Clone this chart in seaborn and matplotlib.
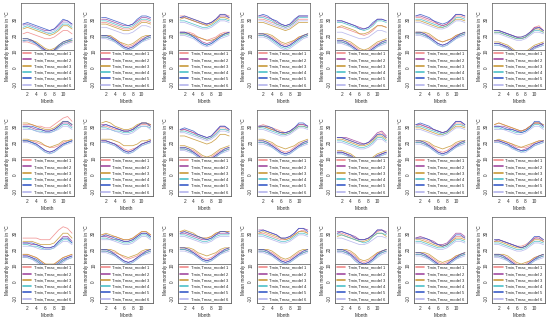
import matplotlib
matplotlib.use("Agg")
import matplotlib.pyplot as plt
from matplotlib.lines import Line2D
import seaborn as sns

MONTHS = [1, 2, 3, 4, 5, 6, 7, 8, 9, 10, 11, 12]
MODEL_LABELS = ["Tmin,Tmax_model 1", "Tmin,Tmax_model 2", "Tmin,Tmax_model 3",
                "Tmin,Tmax_model 4", "Tmin,Tmax_model 5", "Tmin,Tmax_model 6"]
X_TICKS = [2, 4, 6, 8, 10, 12]
X_TICK_LABELS = ["2", "4", "6", "8", "10", ""]
Y_TICKS = [-10, 0, 10, 20, 30]

# ---- Row 1 ----
tmax_p01 = [[21,22,21,20,19,18,18,19,21,23,23,21],[27,27,26,25,24,23,23,24,26,29,29,27],[24,25,24,23,22,21,20,21,23,26,26,24],
            [25,26,25,24,23,22,21,22,24,27,27,25],[27,28,27,26,25,24,23,24,27,30,29,27],[26,27,26,25,24,22,22,23,25,28,28,26]]
tmin_p01 = [[16,16,15,14,12,11,10,11,13,15,16,16],[17,17,17,15,13,11,10,11,13,15,16,17],[18,18,17,16,14,12,11,12,14,16,17,17],
            [17,17,16,15,12,10,9,10,13,15,16,17],[18,18,17,15,13,11,10,11,14,16,17,18],[16,17,16,14,12,10,9,10,12,14,15,16]]
tmax_p02 = [[28,28,27,26,25,24,24,25,27,29,29,28],[30,30,29,28,27,26,26,27,29,31,31,30],[27,27,26,25,24,23,23,24,26,28,28,27],
            [29,29,28,27,26,25,25,26,28,30,30,29],[31,31,30,29,28,27,26,27,30,32,32,31],[25,25,24,23,22,21,21,22,24,26,26,25]]
tmin_p02 = [[20,20,19,18,16,14,13,14,16,18,19,20],[19,19,18,17,15,13,12,13,15,17,18,19],[20,20,20,18,16,15,14,15,17,19,20,20],
            [19,19,18,16,14,12,11,12,14,16,18,19],[20,20,19,17,15,13,12,13,15,17,19,20],[18,18,17,16,14,12,11,12,14,16,17,18]]
tmax_p03 = [[32,32,31,30,29,28,27,28,30,33,33,32],[31,31,30,29,28,27,27,28,30,32,32,31],[30,31,30,29,28,27,26,27,29,31,31,30],
            [29,29,28,27,26,25,25,26,28,30,30,29],[31,32,31,30,29,28,27,28,30,33,33,31],[28,28,27,26,25,24,24,25,27,29,29,28]]
tmin_p03 = [[22,22,22,21,19,18,17,18,19,21,22,22],[22,22,21,20,18,16,15,16,18,20,21,22],[21,21,21,20,19,18,17,17,18,20,21,21],
            [21,21,20,19,17,15,14,15,17,19,20,21],[22,22,21,19,17,15,14,15,17,19,21,22],[20,20,19,18,16,14,13,14,16,18,19,20]]
tmax_p04 = [[30,30,29,28,27,26,25,26,28,30,30,30],[32,32,31,30,28,27,26,27,29,32,32,32],[28,28,27,26,25,24,23,24,26,28,28,28],
            [31,31,30,29,27,26,25,26,28,31,31,31],[32,33,32,30,29,27,26,27,30,32,32,32],[29,29,28,27,26,25,24,25,27,29,29,29]]
tmin_p04 = [[21,21,20,19,17,15,14,15,17,19,20,21],[20,20,19,18,16,14,13,14,16,18,19,20],[21,21,21,20,18,16,15,16,17,19,20,21],
            [20,20,19,17,15,13,12,13,15,17,19,20],[21,21,20,18,16,14,13,14,16,18,20,21],[19,19,18,16,14,12,11,12,14,16,18,19]]
tmax_p05 = [[25,25,24,23,22,21,20,21,23,26,26,25],[29,29,28,27,26,25,24,25,27,30,30,29],[25,26,25,24,23,21,21,22,24,26,26,25],
            [28,28,27,26,25,24,23,24,26,29,29,28],[29,29,28,27,26,24,24,25,28,30,30,29],[22,22,21,20,19,18,18,19,21,23,23,22]]
tmin_p05 = [[17,17,16,15,13,11,10,11,13,15,16,17],[16,16,15,14,12,10,9,10,12,14,15,16],[18,18,17,16,14,12,11,12,14,16,17,18],
            [16,16,15,13,11,9,8,9,11,13,15,16],[17,17,16,14,12,10,9,10,12,14,16,17],[15,15,14,13,11,9,8,9,11,13,14,15]]
tmax_p06 = [[31,31,30,29,28,27,26,27,29,32,32,31],[32,32,31,30,29,27,26,27,30,33,33,32],[29,29,28,27,26,25,25,26,28,30,30,29],
            [30,30,29,28,27,26,25,26,28,31,31,30],[32,33,32,31,29,28,27,28,30,33,33,32],[28,28,27,26,25,24,24,25,27,29,29,28]]
tmin_p06 = [[22,22,21,20,18,17,16,17,18,20,21,22],[21,21,20,19,17,15,14,15,17,19,20,21],[22,22,22,21,19,17,16,17,18,20,21,22],
            [21,21,20,18,16,14,13,14,16,18,20,21],[22,22,21,19,17,15,14,15,17,19,21,22],[20,20,19,18,16,14,13,14,16,18,19,20]]
tmax_p07 = [[23,23,22,21,20,19,19,20,22,25,26,23],[23,23,22,21,20,19,18,19,22,25,25,23],[22,22,21,20,19,18,18,19,21,24,24,22],
            [22,22,21,20,19,18,18,19,21,23,23,22],[23,23,22,21,20,19,19,20,22,24,25,23],[21,21,20,19,18,17,17,18,20,22,22,21]]
tmin_p07 = [[15,15,14,13,11,9,8,9,11,13,14,15],[15,15,14,12,10,8,7,8,10,12,14,15],[16,16,15,14,12,10,9,10,12,14,15,16],
            [14,14,13,12,10,8,7,8,10,12,13,14],[15,15,14,13,11,9,8,9,11,13,14,15],[14,14,13,12,10,8,7,8,10,12,13,14]]
# ---- Row 2 ----
tmax_p08 = [[31,31,31,30,30,29,29,31,33,35,36,33],[30,30,29,28,28,27,27,28,30,32,32,30],[32,32,31,30,29,28,28,29,31,33,33,31],
            [29,29,28,27,27,26,26,27,29,31,31,29],[30,30,30,29,28,27,27,28,30,33,33,31],[28,28,28,27,26,26,26,27,28,30,30,28]]
tmin_p08 = [[21,21,21,20,19,18,17,17,18,20,21,21],[21,21,20,19,17,15,14,15,17,19,20,21],[22,22,21,21,20,18,17,18,19,21,21,22],
            [21,21,20,18,16,14,13,14,16,18,20,21],[21,21,20,19,17,15,14,15,17,19,20,21],[20,20,19,18,16,14,13,14,16,18,19,20]]
tmax_p09 = [[30,30,29,28,28,27,27,28,30,31,31,30],[31,31,30,29,28,27,27,28,30,32,32,31],[32,33,32,30,29,28,28,29,31,32,32,31],
            [29,29,28,27,27,26,26,27,29,30,30,29],[30,31,30,29,28,27,27,28,30,32,32,30],[28,28,28,27,26,25,25,26,28,30,30,28]]
tmin_p09 = [[21,21,20,19,18,16,15,16,17,19,20,21],[21,21,20,19,17,15,14,15,17,19,20,21],[22,22,22,21,20,18,18,18,19,21,21,22],
            [20,20,19,18,16,14,13,14,16,18,19,20],[21,21,20,19,17,15,14,15,17,19,20,21],[20,20,19,18,16,14,13,14,16,18,19,20]]
tmax_p10 = [[27,28,27,26,24,23,22,23,26,29,29,27],[28,28,27,26,25,24,23,24,27,30,30,28],[24,24,23,22,21,20,19,20,22,25,25,24],
            [27,27,26,25,24,23,22,23,25,28,28,27],[28,29,28,27,25,24,23,24,27,30,30,28],[26,26,25,24,23,22,21,22,24,27,27,26]]
tmin_p10 = [[17,17,16,15,13,11,10,11,13,15,16,17],[16,16,15,14,12,10,9,10,12,14,15,16],[18,18,17,16,14,12,11,12,14,16,17,18],
            [16,16,15,13,11,9,8,9,11,13,15,16],[17,17,16,14,12,10,9,10,12,14,16,17],[15,15,14,13,11,9,8,9,11,13,14,15]]
tmax_p11 = [[30,31,30,29,28,27,26,27,29,31,31,30],[30,30,29,28,27,26,26,27,29,31,31,30],[29,30,29,28,27,26,25,26,28,30,30,29],
            [29,29,28,27,26,25,25,26,28,30,30,29],[30,30,30,29,27,26,26,27,29,32,32,30],[28,28,27,26,25,24,24,25,27,29,29,28]]
tmin_p11 = [[21,21,20,19,17,15,14,15,17,19,20,21],[20,20,19,18,16,14,13,14,16,18,19,20],[22,22,21,20,18,17,16,17,18,20,21,22],
            [20,20,19,17,15,13,12,13,15,17,19,20],[21,21,20,18,16,14,13,14,16,18,20,21],[19,19,18,17,15,13,12,13,15,17,18,19]]
tmax_p12 = [[23,23,22,21,20,19,19,20,22,25,26,23],[23,23,23,22,21,20,19,20,23,26,27,24],[22,22,21,20,19,18,18,19,21,24,24,22],
            [21,21,20,19,18,17,17,18,20,23,23,21],[23,23,22,21,20,19,19,20,22,25,25,23],[20,20,19,18,17,16,16,17,19,22,22,20]]
tmin_p12 = [[14,14,13,12,10,8,7,8,10,12,13,14],[14,14,13,11,9,7,6,7,9,11,13,14],[15,15,14,13,11,9,8,9,11,13,14,15],
            [13,13,12,11,9,7,6,7,9,11,12,13],[14,14,13,12,10,8,7,8,10,12,13,14],[13,13,12,11,9,7,6,7,9,11,12,13]]
tmax_p13 = [[30,31,30,29,28,27,26,27,29,32,32,30],[31,31,30,29,28,27,26,27,30,33,33,31],[29,29,28,27,26,25,25,26,28,30,30,29],
            [30,30,29,28,27,26,25,26,29,31,31,30],[31,32,31,30,28,27,26,27,30,33,33,31],[28,28,27,26,25,24,24,25,27,29,29,28]]
tmin_p13 = [[21,21,20,19,17,15,14,15,17,19,20,21],[20,20,19,18,16,14,13,14,16,18,19,20],[21,21,21,20,18,17,16,17,18,20,21,21],
            [20,20,19,17,15,13,12,13,15,17,19,20],[21,21,20,18,16,14,13,14,16,18,20,21],[19,19,18,17,15,13,12,13,15,17,18,19]]
tmax_p14 = [[31,32,31,30,29,28,27,28,30,32,32,31],[30,30,30,29,28,27,27,28,30,32,32,30],[31,32,31,30,29,28,27,28,30,32,32,31],
            [29,29,28,28,27,26,26,27,29,31,31,29],[30,30,29,28,28,27,26,27,29,33,33,30],[28,28,28,27,26,25,25,26,28,30,30,28]]
tmin_p14 = [[21,21,21,20,19,17,17,17,18,20,21,21],[21,21,20,19,18,16,15,16,17,19,20,21],[21,22,21,20,19,18,17,18,19,20,21,21],
            [20,20,19,18,17,15,14,15,16,18,19,20],[21,21,20,19,17,16,15,15,17,19,20,21],[20,20,19,18,16,15,14,14,16,18,19,20]]
# ---- Row 3 ----
tmax_p15 = [[27,27,27,27,26,26,26,29,32,34,33,30],[24,24,23,23,22,21,21,22,25,28,28,25],[25,25,25,24,23,23,23,24,27,30,30,27],
            [23,23,22,22,21,20,20,21,24,26,26,24],[24,24,24,23,22,21,21,22,25,27,27,24],[22,22,22,21,20,20,20,21,23,25,25,23]]
tmin_p15 = [[17,17,16,15,13,11,10,11,13,15,16,17],[16,16,15,13,11,9,8,9,11,13,15,16],[17,17,16,15,13,11,11,11,13,15,16,17],
            [15,15,14,13,11,9,8,9,11,13,14,15],[16,16,15,14,12,10,9,10,12,14,15,16],[15,15,14,12,10,8,7,8,10,12,14,15]]
tmax_p16 = [[29,29,28,28,27,26,26,27,29,31,31,29],[28,28,27,26,26,25,25,26,28,30,30,28],[29,30,29,28,27,26,26,27,29,31,31,29],
            [27,27,26,26,25,24,24,25,27,29,29,27],[28,29,28,27,26,25,25,26,28,30,30,28],[26,26,26,25,24,23,23,24,26,28,28,26]]
tmin_p16 = [[20,20,19,18,17,15,14,15,16,18,19,20],[19,19,18,17,15,13,12,13,15,17,18,19],[20,20,20,19,17,16,15,16,17,19,20,20],
            [19,19,18,16,14,12,11,12,14,16,18,19],[20,20,19,17,15,13,12,13,15,17,19,20],[18,18,17,16,14,12,11,12,14,16,17,18]]
tmax_p17 = [[31,31,30,29,28,27,27,28,30,31,31,31],[30,30,29,28,27,26,26,27,29,30,30,30],[31,32,31,30,28,27,27,28,30,31,31,31],
            [29,29,28,27,26,25,25,26,28,29,29,29],[30,31,30,29,28,27,26,27,29,31,31,30],[28,28,27,26,25,24,24,25,27,28,28,28]]
tmin_p17 = [[21,21,20,19,17,15,14,15,17,19,20,21],[20,20,19,18,16,14,13,14,16,18,19,20],[21,21,21,20,18,17,16,17,18,20,21,21],
            [20,20,19,17,15,13,12,13,15,17,19,20],[21,21,20,18,16,14,13,14,16,18,20,21],[19,19,18,17,15,13,12,13,15,17,18,19]]
tmax_p18 = [[30,30,29,28,27,26,26,27,29,31,32,30],[32,32,31,30,29,27,27,28,30,33,33,32],[30,31,30,29,28,27,26,27,29,31,31,30],
            [29,29,28,27,26,25,25,26,28,30,30,29],[31,32,31,30,29,27,27,28,30,33,33,31],[28,28,27,26,25,24,24,25,27,29,29,28]]
tmin_p18 = [[20,20,19,18,16,14,13,14,16,18,19,20],[19,19,18,17,15,13,12,13,15,17,18,19],[20,20,20,19,17,15,14,15,17,19,20,20],
            [19,19,18,16,14,12,11,12,14,16,18,19],[20,20,19,17,15,13,12,13,15,17,19,20],[18,18,17,16,14,12,11,12,14,16,17,18]]
tmax_p19 = [[30,30,29,28,27,26,26,27,29,31,32,30],[31,31,30,29,28,26,26,27,29,32,32,31],[28,29,28,27,26,25,25,26,28,30,30,28],
            [29,29,28,27,26,25,24,25,28,30,30,29],[30,31,30,29,27,26,26,27,29,32,32,30],[27,27,26,25,24,23,23,24,26,28,28,27]]
tmin_p19 = [[20,20,19,18,16,13,12,13,15,18,19,20],[19,19,18,17,14,12,11,12,14,17,18,19],[20,20,20,19,17,14,13,14,16,18,19,20],
            [19,19,18,16,13,11,10,11,13,16,18,19],[20,20,19,17,15,12,11,12,14,17,19,20],[18,18,17,16,13,11,10,11,13,15,17,18]]
tmax_p20 = [[27,27,26,25,24,23,22,23,25,28,28,27],[27,28,27,26,25,23,23,24,27,30,30,28],[26,26,25,24,23,22,22,23,25,27,27,26],
            [25,25,24,23,22,21,21,22,24,26,26,25],[27,27,27,26,24,23,22,23,26,29,29,27],[24,24,23,22,21,20,20,21,23,25,25,24]]
tmin_p20 = [[18,18,17,16,14,12,11,12,14,16,17,18],[17,17,16,15,13,11,10,11,13,15,16,17],[18,18,18,17,15,13,12,13,14,16,17,18],
            [17,17,16,14,12,10,9,10,12,14,16,17],[18,18,17,15,13,11,10,11,13,15,17,18],[16,16,15,14,12,10,9,10,12,14,15,16]]
tmax_p21 = [[26,26,25,24,23,22,22,23,25,27,28,26],[25,26,25,24,23,22,21,22,24,27,27,25],[25,25,24,23,22,21,21,22,24,26,26,25],
            [24,24,23,22,21,20,20,21,23,25,25,24],[26,26,25,24,23,22,21,22,25,28,28,26],[23,23,22,21,20,19,19,20,22,24,24,23]]
tmin_p21 = [[17,17,16,15,13,11,10,11,13,15,16,17],[16,16,15,14,12,10,9,10,12,14,15,16],[17,17,17,16,14,12,11,12,13,15,16,17],
            [16,16,15,13,11,9,8,9,11,13,15,16],[17,17,16,14,12,10,9,10,12,14,16,17],[15,15,14,13,11,9,8,9,11,13,14,15]]

PANELS = [(tmax_p01, tmin_p01), (tmax_p02, tmin_p02), (tmax_p03, tmin_p03), (tmax_p04, tmin_p04),
          (tmax_p05, tmin_p05), (tmax_p06, tmin_p06), (tmax_p07, tmin_p07),
          (tmax_p08, tmin_p08), (tmax_p09, tmin_p09), (tmax_p10, tmin_p10), (tmax_p11, tmin_p11),
          (tmax_p12, tmin_p12), (tmax_p13, tmin_p13), (tmax_p14, tmin_p14),
          (tmax_p15, tmin_p15), (tmax_p16, tmin_p16), (tmax_p17, tmin_p17), (tmax_p18, tmin_p18),
          (tmax_p19, tmin_p19), (tmax_p20, tmin_p20), (tmax_p21, tmin_p21)]

COLORS = ["#f08a8a", "#a24aa0", "#c89a3a", "#4cc0c8", "#3a5cc8", "#b4b4ec"]

sns.set_style("white")
plt.rcParams["font.family"] = ["Liberation Sans", "DejaVu Sans"]

W, H = 550, 321
fig = plt.figure(figsize=(5.5, 3.21), dpi=100)
FS = 3.4

for idx, (tmax, tmin) in enumerate(PANELS):
    r, c = divmod(idx, 7)
    left = (21 + 78.57 * c) / W
    bottom = 1 - (107 * r + 89) / H
    ax = fig.add_axes([left, bottom, 53 / W, 86 / H])
    for k in range(6):
        sns.lineplot(x=MONTHS, y=tmax[k], color=COLORS[k], lw=0.55, alpha=0.9, ax=ax)
        sns.lineplot(x=MONTHS, y=tmin[k], color=COLORS[k], lw=0.55, alpha=0.9, ax=ax)
    ax.set_xlim(0.56, 12.44)
    ax.set_ylim(-13, 40)
    ax.set_xticks(X_TICKS)
    ax.set_xticklabels(X_TICK_LABELS, fontsize=FS)
    ax.set_yticks(Y_TICKS)
    ax.set_yticklabels([str(v) for v in Y_TICKS], fontsize=FS, rotation=90, va="center")
    ax.tick_params(length=1.5, width=0.4, pad=1, colors="#333333")
    ax.set_xlabel("Month", fontsize=FS, labelpad=1)
    ax.set_ylabel("Mean monthly temperature in °C", fontsize=FS, labelpad=1.5)
    for s in ax.spines.values():
        s.set_linewidth(0.5)
        s.set_color("#555555")
    handles = [Line2D([0], [0], color=COLORS[k], lw=1.2) for k in range(6)]
    leg = ax.legend(handles, MODEL_LABELS, loc="lower left", bbox_to_anchor=(0, 0, 1, 0.43),
                    mode="expand", borderaxespad=0, fontsize=3.0, frameon=True,
                    fancybox=False, edgecolor="#555555", framealpha=1,
                    handlelength=2.0, labelspacing=0.55, borderpad=0.45,
                    handletextpad=0.6)
    leg.get_frame().set_linewidth(0.5)

fig.savefig("out.png", dpi=100)
